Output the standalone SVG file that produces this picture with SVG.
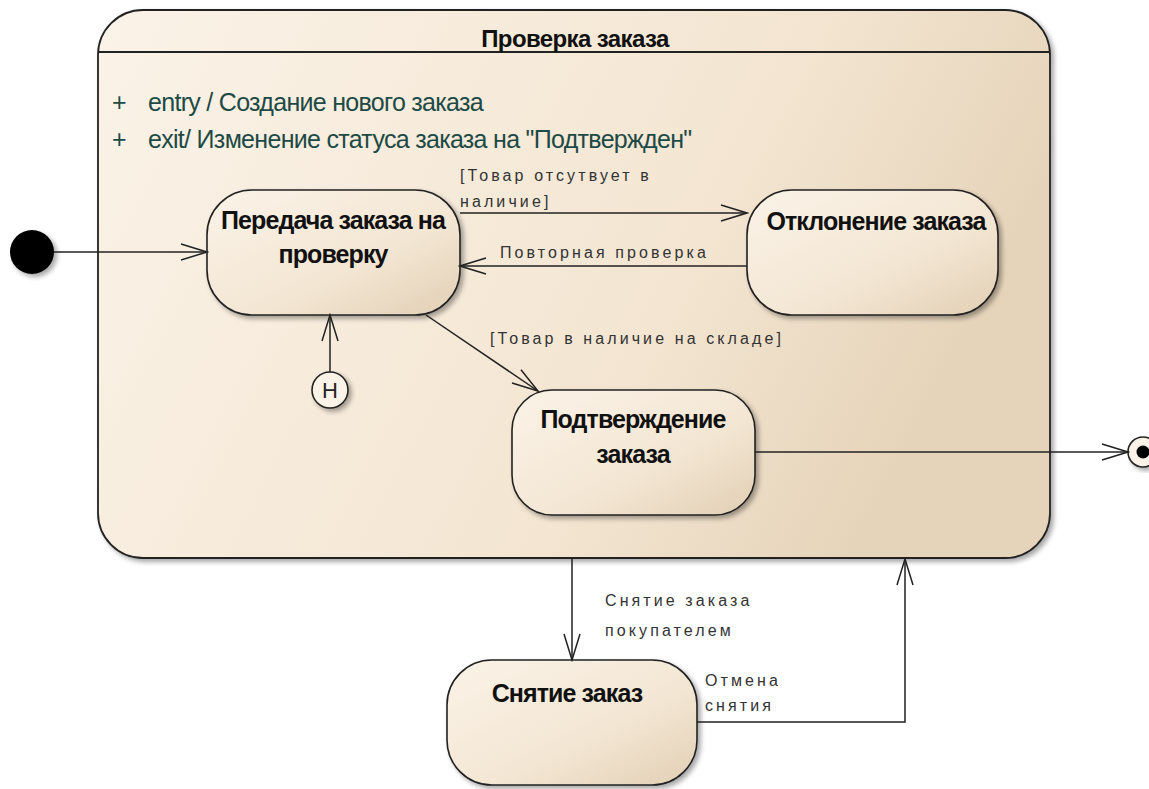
<svg xmlns="http://www.w3.org/2000/svg" width="1149" height="789" viewBox="0 0 1149 789">
<defs>
<linearGradient id="gState" x1="0" y1="0" x2="1" y2="1">
<stop offset="0" stop-color="#fbf3e8"/>
<stop offset="0.6" stop-color="#f3e6d3"/>
<stop offset="1" stop-color="#e2cfb4"/>
</linearGradient>
<linearGradient id="gComp" x1="0" y1="0" x2="1" y2="0.3">
<stop offset="0" stop-color="#fbf3e8"/>
<stop offset="0.7" stop-color="#f3e5d1"/>
<stop offset="1" stop-color="#e6d4ba"/>
</linearGradient>
<filter id="sh" x="-10%" y="-10%" width="130%" height="130%">
<feGaussianBlur in="SourceAlpha" stdDeviation="2.5"/>
<feOffset dx="3" dy="3"/>
<feComponentTransfer><feFuncA type="linear" slope="0.35"/></feComponentTransfer>
<feMerge><feMergeNode/><feMergeNode in="SourceGraphic"/></feMerge>
</filter>
<marker id="arr" markerWidth="30" markerHeight="20" refX="28" refY="10" orient="auto" markerUnits="userSpaceOnUse">
<path d="M2,2 L28,10 L2,18" fill="none" stroke="#222" stroke-width="1.5"/>
</marker>
</defs>
<style>
.state{fill:url(#gState);stroke:#222;stroke-width:1.6;filter:url(#sh)}
.name{font-family:"Liberation Sans",Arial,sans-serif;font-weight:bold;font-size:25px;fill:#111;text-anchor:middle;letter-spacing:-0.9px}
.title{font-family:"Liberation Sans",Arial,sans-serif;font-weight:bold;font-size:24px;fill:#111;text-anchor:middle;letter-spacing:-0.6px}
.lbl{font-family:"Liberation Sans",Arial,sans-serif;font-size:16px;fill:#333;letter-spacing:3.1px}
.act{font-family:"Liberation Sans",Arial,sans-serif;font-size:25px;fill:#1d4a45;letter-spacing:-0.7px}
.edge{fill:none;stroke:#222;stroke-width:1.5;marker-end:url(#arr)}
</style>
<rect width="1149" height="789" fill="#ffffff"/>

<g id="composite">
<rect x="98" y="10" width="952" height="548" rx="45" ry="45" fill="url(#gComp)" stroke="#222" stroke-width="1.8" filter="url(#sh)"/>
<line x1="98" y1="52" x2="1050" y2="52" stroke="#222" stroke-width="1.8"/>
<text x="575" y="47" class="title">Проверка заказа</text>
<text x="112" y="111" class="act">+</text>
<text x="148" y="111" class="act">entry / Создание нового заказа</text>
<text x="112" y="148" class="act">+</text>
<text x="148" y="148" class="act">exit/ Изменение статуса заказа на "Подтвержден"</text>
</g>

<g id="initial">
<circle cx="32" cy="252" r="22" fill="#000" filter="url(#sh)"/>
</g>

<g id="peredacha">
<rect x="207" y="190" width="253" height="125" rx="45" ry="45" class="state"/>
<text x="333" y="229" class="name">Передача заказа на</text>
<text x="333" y="263" class="name">проверку</text>
</g>

<g id="otklonenie">
<rect x="747" y="190" width="251" height="125" rx="45" ry="45" class="state"/>
<text x="876" y="230" class="name">Отклонение заказа</text>
</g>

<g id="history">
<circle cx="330" cy="390" r="18" fill="#fbf3e8" stroke="#222" stroke-width="1.6" filter="url(#sh)"/>
<text x="330" y="398" font-family="Liberation Sans, Arial, sans-serif" font-size="22" fill="#222" text-anchor="middle">H</text>
</g>

<g id="podtverzhdenie">
<rect x="512" y="390" width="243" height="125" rx="40" ry="40" class="state"/>
<text x="633" y="428" class="name">Подтверждение</text>
<text x="633" y="463" class="name">заказа</text>
</g>

<g id="final">
<circle cx="1143" cy="452" r="15" fill="#fbf3e8" stroke="#222" stroke-width="1.6" filter="url(#sh)"/>
<circle cx="1143" cy="452" r="6.5" fill="#000"/>
</g>

<g id="snyatie">
<rect x="447" y="660" width="250" height="125" rx="45" ry="45" class="state"/>
<text x="567" y="702" class="name">Снятие заказ</text>
</g>

<g id="connectors">
<line x1="54" y1="252" x2="207" y2="252" class="edge"/>
<line x1="460" y1="213" x2="747" y2="213" class="edge"/>
<line x1="747" y1="266" x2="460" y2="266" class="edge"/>
<line x1="426" y1="315" x2="538" y2="391" class="edge"/>
<line x1="330" y1="372" x2="330" y2="315" class="edge"/>
<line x1="755" y1="452" x2="1128" y2="452" class="edge"/>
<line x1="572" y1="558" x2="572" y2="660" class="edge"/>
<polyline points="697,722 905,722 905,559" class="edge"/>
<text x="460" y="181" class="lbl">[Товар отсутвует в</text>
<text x="460" y="207" class="lbl">наличие]</text>
<text x="500" y="258" class="lbl">Повторная проверка</text>
<text x="490" y="344" class="lbl">[Товар в наличие на складе]</text>
<text x="605" y="606" class="lbl">Снятие заказа</text>
<text x="605" y="636" class="lbl">покупателем</text>
<text x="705" y="686" class="lbl">Отмена</text>
<text x="705" y="711" class="lbl">снятия</text>
</g>
</svg>
